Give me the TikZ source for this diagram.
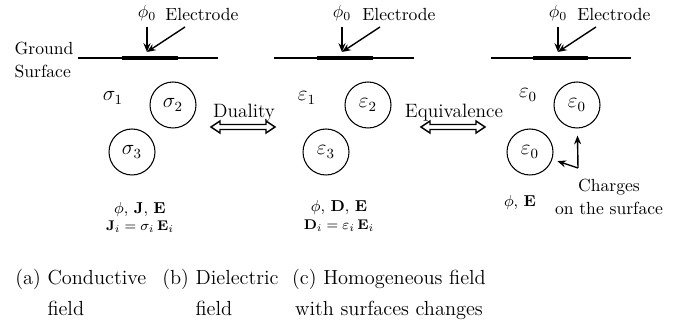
\documentclass[tikz,border=0pt]{standalone}
\usepackage{amsmath}
\usetikzlibrary{arrows.meta}
\newcommand\dblarrow[1]{\draw[thick,shift={(#1)}] (-32,0) -- ++(9,-6) -- ++(0,3.5) -- ++(46,0) -- ++(0,-3.5) -- ++(9,6) -- ++(-9,6) -- ++(0,-3.5) -- ++(-46,0) -- ++(0,3.5) -- cycle;}
\begin{document}
\begin{tikzpicture}[x=0.02cm,y=-0.02cm, every node/.style={font=\fontsize{10}{13}\selectfont}]
  \tikzstyle{ball}=[draw,semithick,circle,minimum size=0.92cm,inner sep=0pt,font=\fontsize{12}{14}\selectfont]
  \tikzstyle{gnd}=[line width=0.8pt]
  \tikzstyle{elec}=[line width=2.2pt]
  \tikzstyle{ptr}=[-{Stealth[length=5pt,width=4pt]},thick]
  \tikzstyle{link}=[font=\fontsize{11}{13}\selectfont]
  \tikzstyle{eqn}=[font=\fontsize{9}{10}\selectfont]
  \tikzstyle{eqs}=[font=\fontsize{8}{9}\selectfont]
  \tikzstyle{captxt}=[anchor=north west,align=left,inner sep=0pt,font=\fontsize{11.6}{17.5}\selectfont]
  \useasboundingbox (0,0) rectangle (694,327);
  % (a) conductive field
  \node[align=left] (gs) at (44,60) {Ground\\Surface};
  \coordinate (a-l) at (78,58); \coordinate (a-r) at (218,58);
  \coordinate (a-e1) at (122,58); \coordinate (a-e2) at (178,58);
  \draw[gnd] (a-l) -- (a-r); \draw[elec] (a-e1) -- (a-e2);
  \node (a-phi) at (147,13) {$\phi_0$};
  \node (a-el) at (202,15) {Electrode};
  \coordinate (a-tip) at (147,52); \coordinate (a-from) at (185,27);
  \draw[ptr] (a-phi) -- (a-tip); \draw[ptr] (a-from) -- (a-tip);
  \node[font=\fontsize{12}{14}\selectfont] (s1) at (113,98) {$\sigma_1$};
  \node[ball] (s2) at (173,105) {$\sigma_2$};
  \node[ball] (s3) at (132,152) {$\sigma_3$};
  \node[eqn] (a-q) at (140,210) {$\phi$, $\mathbf{J}$, $\mathbf{E}$};
  \node[eqs] (a-law) at (140,227) {$\mathbf{J}_i=\sigma_i\,\mathbf{E}_i$};
  % duality
  \node[link] (dua-t) at (244,113) {Duality};
  \coordinate (dua) at (243,127);
  \dblarrow{dua}
  % (b) dielectric field
  \coordinate (b-l) at (274,58); \coordinate (b-r) at (414,58);
  \coordinate (b-e1) at (317,58); \coordinate (b-e2) at (373,58);
  \draw[gnd] (b-l) -- (b-r); \draw[elec] (b-e1) -- (b-e2);
  \node (b-phi) at (342,13) {$\phi_0$};
  \node (b-el) at (399,15) {Electrode};
  \coordinate (b-tip) at (342,52); \coordinate (b-from) at (380,27);
  \draw[ptr] (b-phi) -- (b-tip); \draw[ptr] (b-from) -- (b-tip);
  \node[font=\fontsize{12}{14}\selectfont] (e1) at (307,98) {$\varepsilon_1$};
  \node[ball] (e2) at (368,105) {$\varepsilon_2$};
  \node[ball] (e3) at (326,152) {$\varepsilon_3$};
  \node[eqn] (b-q) at (339,208) {$\phi$, $\mathbf{D}$, $\mathbf{E}$};
  \node[eqs] (b-law) at (339,226) {$\mathbf{D}_i=\varepsilon_i\,\mathbf{E}_i$};
  % equivalence
  \node[link] (equ-t) at (454,113) {Equivalence};
  \coordinate (equ) at (453,127);
  \dblarrow{equ}
  % (c) homogeneous field
  \coordinate (c-l) at (491,58); \coordinate (c-r) at (631,58);
  \coordinate (c-e1) at (533,58); \coordinate (c-e2) at (588,58);
  \draw[gnd] (c-l) -- (c-r); \draw[elec] (c-e1) -- (c-e2);
  \node (c-phi) at (558,13) {$\phi_0$};
  \node (c-el) at (614,15) {Electrode};
  \coordinate (c-tip) at (558,52); \coordinate (c-from) at (596,27);
  \draw[ptr] (c-phi) -- (c-tip); \draw[ptr] (c-from) -- (c-tip);
  \node[font=\fontsize{12}{14}\selectfont] (z0) at (528,95) {$\varepsilon_0$};
  \node[ball] (c-top) at (577,105) {$\varepsilon_0$};
  \node[ball] (c-low) at (530,152) {$\varepsilon_0$};
  \coordinate (c-knee) at (578,168);
  \draw[ptr,shorten >=4pt] (c-knee) -- (c-top);
  \draw[ptr,shorten >=3pt] (c-knee) -- (c-low);
  \node[align=center] (chg) at (609,197) {Charges\\on the surface};
  \node[eqn] (c-q) at (520,203) {$\phi$, $\mathbf{E}$};
  % captions
  \node[captxt] (cap-a) at (15,269) {(a) Conductive\\\phantom{(a) }field};
  \node[captxt] (cap-b) at (162,269) {(b) Dielectric\\\phantom{(b) }field};
  \node[captxt,anchor=north,align=center] (cap-c) at (389,269) {(c) Homogeneous field\\with surfaces changes};
\end{tikzpicture}
\end{document}
